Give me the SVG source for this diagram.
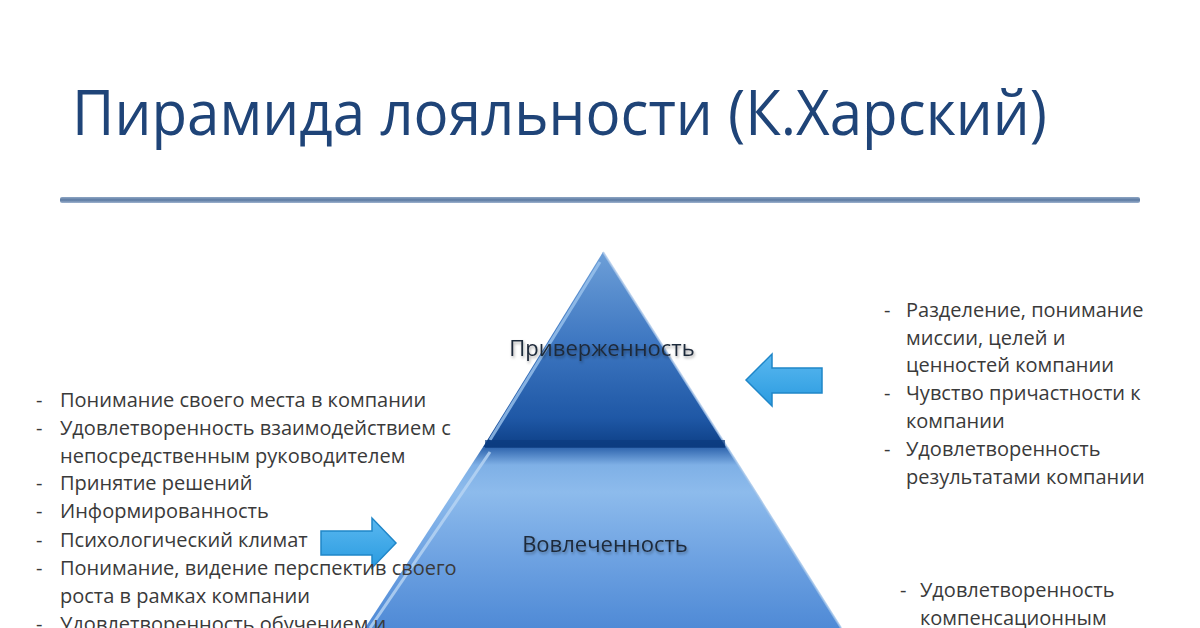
<svg xmlns="http://www.w3.org/2000/svg" width="1200" height="628" viewBox="0 0 1200 628">
<defs>
<linearGradient id="gTop" x1="0" y1="252" x2="0" y2="447" gradientUnits="userSpaceOnUse">
<stop offset="0" stop-color="#6d9fd8"/>
<stop offset="0.45" stop-color="#3f78c2"/>
<stop offset="0.85" stop-color="#1f58a6"/>
<stop offset="1" stop-color="#0d3f86"/>
</linearGradient>
<linearGradient id="gBot" x1="0" y1="447" x2="0" y2="628" gradientUnits="userSpaceOnUse">
<stop offset="0" stop-color="#2e64ad"/>
<stop offset="0.1" stop-color="#7fb0e6"/>
<stop offset="0.25" stop-color="#8dbbec"/>
<stop offset="0.6" stop-color="#6fa3e2"/>
<stop offset="1" stop-color="#4f8ad6"/>
</linearGradient>
<linearGradient id="gArrow" x1="0" y1="0" x2="0" y2="1">
<stop offset="0" stop-color="#5ab8f0"/>
<stop offset="1" stop-color="#2a9be0"/>
</linearGradient>
<linearGradient id="gRule" x1="0" y1="0" x2="0" y2="1">
<stop offset="0" stop-color="#8fa6c4"/>
<stop offset="0.5" stop-color="#5b7aa2"/>
<stop offset="1" stop-color="#9fb3cf"/>
</linearGradient>
<filter id="sh" x="-10%" y="-30%" width="120%" height="160%">
<feGaussianBlur in="SourceAlpha" stdDeviation="1.5"/>
<feOffset dx="1" dy="2" result="b"/>
<feFlood flood-color="#000" flood-opacity="0.35"/>
<feComposite in2="b" operator="in"/>
<feMerge><feMergeNode/><feMergeNode in="SourceGraphic"/></feMerge>
</filter>
</defs>
<style>
.t{font-family:"Open Sans","Noto Sans",sans-serif;font-size:20px;fill:#3a3a3a}
.h{font-family:"Open Sans","Noto Sans",sans-serif;font-size:22px;fill:#1f2a3a}
.title{font-family:"Open Sans","Noto Sans",sans-serif;font-size:62px;fill:#1f4478}
.arrow{fill:url(#gArrow);stroke:#1f86c8;stroke-width:1.5}
</style>
<rect width="1200" height="628" fill="#ffffff"/>
<text class="title" x="72" y="135" textLength="975" lengthAdjust="spacingAndGlyphs">Пирамида лояльности (К.Харский)</text>
<rect x="60" y="197" width="1080" height="6" rx="2" fill="url(#gRule)"/>

<g id="pyramid-bottom">
<polygon points="483,447 727,447 841,628 365,628" fill="url(#gBot)"/>
<polyline points="490,452 370,628" fill="none" stroke="#b9d6f4" stroke-width="3" opacity="0.8"/>
<polyline points="727,447 841,628" fill="none" stroke="#9cc0e8" stroke-width="2" opacity="0.8"/>
<text class="h" x="605" y="552" text-anchor="middle" filter="url(#sh)">Вовлеченность</text>
</g>
<g id="pyramid-top">
<polygon points="603,252 727,447 483,447" fill="url(#gTop)"/>
<polyline points="600,262 490,440" fill="none" stroke="#9cc4ee" stroke-width="3" opacity="0.8"/>
<polyline points="603,252 727,447" fill="none" stroke="#a9c6e8" stroke-width="2" opacity="0.8"/>
<rect x="485" y="440" width="240" height="8" fill="#0b3a7d" opacity="0.7"/>
<text class="h" x="602" y="356" text-anchor="middle" filter="url(#sh)">Приверженность</text>
</g>

<g id="connectors">
<polygon class="arrow" points="746,380 772,354 772,368 822,368 822,393 772,393 772,406"/>
<polygon class="arrow" points="396,543 372,518 372,531 321,531 321,555 372,555 372,568"/>
</g>

<g id="left-list">
<text class="t" x="36" y="407">-</text><text class="t" x="60" y="407">Понимание своего места в компании</text>
<text class="t" x="36" y="435">-</text><text class="t" x="60" y="435">Удовлетворенность взаимодействием с</text>
<text class="t" x="60" y="463">непосредственным руководителем</text>
<text class="t" x="36" y="490">-</text><text class="t" x="60" y="490">Принятие решений</text>
<text class="t" x="36" y="518">-</text><text class="t" x="60" y="518">Информированность</text>
<text class="t" x="36" y="547">-</text><text class="t" x="60" y="547">Психологический климат</text>
<text class="t" x="36" y="575">-</text><text class="t" x="60" y="575">Понимание, видение перспектив своего</text>
<text class="t" x="60" y="603">роста в рамках компании</text>
<text class="t" x="36" y="631">-</text><text class="t" x="60" y="631">Удовлетворенность обучением и</text>
</g>

<g id="right-list">
<text class="t" x="884" y="317">-</text><text class="t" x="906" y="317">Разделение, понимание</text>
<text class="t" x="906" y="345">миссии, целей и</text>
<text class="t" x="906" y="372">ценностей компании</text>
<text class="t" x="884" y="400">-</text><text class="t" x="906" y="400">Чувство причастности к</text>
<text class="t" x="906" y="428">компании</text>
<text class="t" x="884" y="456">-</text><text class="t" x="906" y="456">Удовлетворенность</text>
<text class="t" x="906" y="484">результатами компании</text>
</g>

<g id="right-list-2">
<text class="t" x="900" y="597">-</text><text class="t" x="920" y="597">Удовлетворенность</text>
<text class="t" x="920" y="625">компенсационным</text>
</g>
</svg>
